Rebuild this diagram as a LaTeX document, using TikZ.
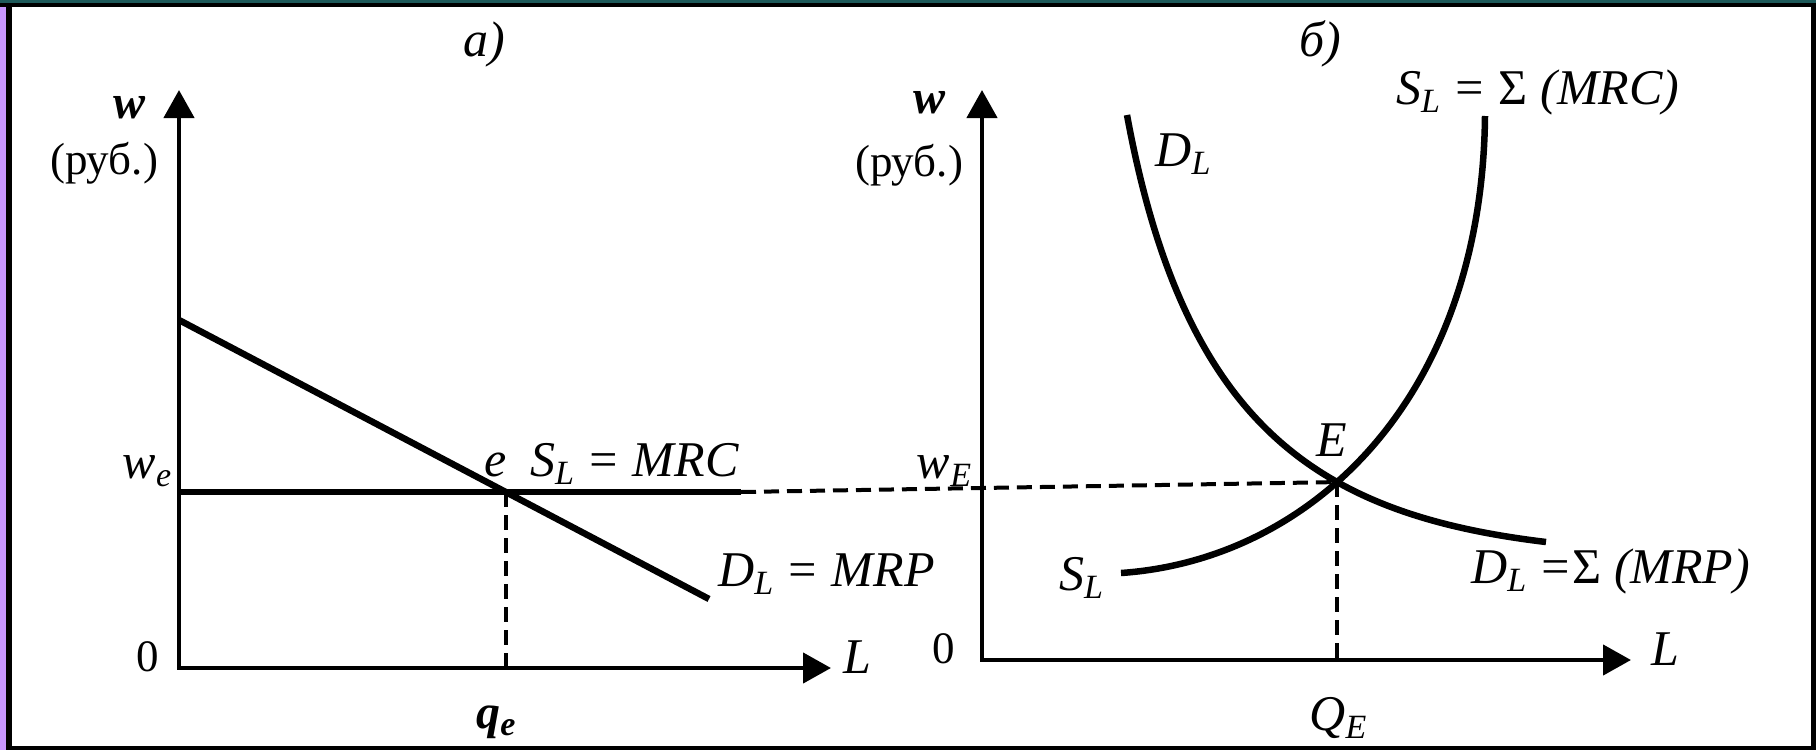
\documentclass[tikz,border=0pt]{standalone}
\usepackage{fontspec}
\setmainfont{Liberation Serif}
\usetikzlibrary{arrows.meta,calc,intersections}
\definecolor{framepurple}{HTML}{C896FF}
\definecolor{frameteal}{HTML}{1E5A5A}
\newcommand\lowsub[1]{\raisebox{-0.16em}{\fontsize{34}{34}\selectfont #1}}
\begin{document}
\begin{tikzpicture}[x=1pt,y=-1pt,
  lbl/.style={font=\fontsize{50}{54}\selectfont\itshape, inner sep=0pt},
  up/.style={font=\fontsize{45}{50}\selectfont\upshape, inner sep=0pt},
  bold/.style={font=\fontsize{48}{52}\selectfont\bfseries\itshape, inner sep=0pt},
  axis/.style={line width=4.5pt, {Triangle[length=28pt,width=30pt]}-{Triangle[length=28pt,width=30pt]}},
  curve/.style={line width=6.5pt},
  guide/.style={line width=4pt, dash pattern=on 15pt off 8pt}]
\useasboundingbox (0,0) rectangle (1816,750);
\fill[black] (0,0) rectangle (1816,750);
\fill[white] (12,7) rectangle (1811,746);
\fill[framepurple] (0,7) rectangle (6,750);
\fill[frameteal] (0,0) rectangle (1816,3);

% left panel
\coordinate (O1) at (179,668);
\coordinate (Y1) at (179,90);
\coordinate (X1) at (831,668);
\draw[axis] (Y1) -- (O1) -- (X1);
\coordinate (D1a) at (179,320);
\coordinate (D1b) at (709,599);
\coordinate (W1) at (179,492);
\coordinate (S1b) at (741,492);
\draw[curve] (D1a) -- (D1b);
\draw[curve] (W1) -- (S1b);
\coordinate (e) at (intersection of D1a--D1b and W1--S1b);
\draw[guide] (e) -- (e |- O1);

% right panel
\coordinate (O2) at (982,660);
\coordinate (Y2) at (982,90);
\coordinate (X2) at (1631,660);
\draw[axis] (Y2) -- (O2) -- (X2);
\draw[curve, name path=dcurve] (1127,115) .. controls (1185,430) and (1322,515) .. (1546,542);
\draw[curve, name path=scurve] (1121,573) .. controls (1310,560) and (1482,400) .. (1485,116);
\path[name intersections={of=dcurve and scurve, by=E}];
\draw[guide] (S1b) -- (E);
\draw[guide] (E) -- (E |- O2);

% labels left
\node[lbl] (ta) at (484,44) {а)};
\node[bold] (w1) at (130,108) {w};
\node[up] (r1) at (104,163) {(руб.)};
\node[lbl,anchor=base] (we) at (147,478) {w\lowsub{e}};
\node[lbl,anchor=base] (el) at (496,476) {e};
\node[lbl,anchor=base west] (sl1) at (530,476) {S\lowsub{L} = MRC};
\node[lbl,anchor=base west] (dl1) at (718,586) {D\lowsub{L} = MRP};
\node[up] (z1) at (148,657) {0};
\node[lbl] (L1) at (857,657) {L};
\node[bold,anchor=base] (qe) at (496,728) {q\lowsub{e}};

% labels right
\node[lbl] (tb) at (1320,44) {б)};
\node[bold] (w2) at (929,103) {w};
\node[up] (r2) at (909,165) {(руб.)};
\node[lbl,anchor=base] (wE) at (944,478) {w\lowsub{E}};
\node[lbl,anchor=base] (El) at (1332,456) {E};
\node[up] (z2) at (944,649) {0};
\node[lbl] (L2) at (1665,649) {L};
\node[lbl,anchor=base] (QE) at (1338,730) {Q\lowsub{E}};
\node[lbl,anchor=base] (dl2) at (1183,166) {D\lowsub{L}};
\node[lbl,anchor=base west] (sl2) at (1396,104) {S\lowsub{L} = {\upshape Σ} (MRC)};
\node[lbl,anchor=base] (sl3) at (1081,590) {S\lowsub{L}};
\node[lbl,anchor=base west] (dl3) at (1471,583) {D\lowsub{L} ={\upshape Σ} (MRP)};
\end{tikzpicture}
\end{document}
